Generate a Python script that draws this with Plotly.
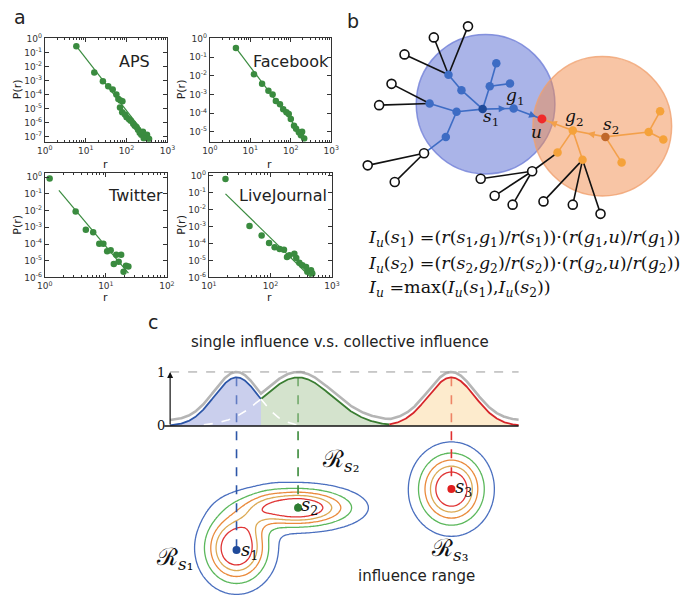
import numpy as np
import plotly.graph_objects as go

W, H = 685, 608
GREEN = '#3a8b3f'

# ---------------- panel a : data ----------------
aps_r = [5.9, 16.2, 26.3, 35.5, 45.7, 56.2, 63, 71, 79, 69, 78, 91, 100, 115, 126, 145, 158, 174,
         190, 209, 229, 251, 275, 295, 316, 331, 355, 263]
aps_p = [0.30, 4.0e-3, 9.3e-4, 4.2e-4, 2.4e-4, 1.07e-4, 5.0e-5, 4.0e-5, 3.5e-5, 1.26e-5, 5.8e-6,
         4.0e-6, 2.5e-6, 1.8e-6, 1.4e-6, 8.7e-7, 6.3e-7, 5.0e-7, 3.2e-7, 2.0e-7, 1.4e-7, 2.3e-7,
         1.26e-7, 1.0e-7, 1.4e-7, 7.9e-8, 7.1e-8, 7.9e-8]
aps_fit_r = [5.9, 340]
aps_fit_p = [0.30, 7.5e-8]

fb_r = [4.4, 12.3, 19.5, 28, 35.5, 42.7, 54, 65, 78, 89, 100, 120, 135, 158, 178, 214, 190]
fb_p = [0.32, 1.23e-2, 3.8e-3, 1.6e-3, 1.0e-3, 4.5e-4, 3.0e-4, 1.6e-4, 1.1e-4, 8.9e-5, 4.8e-5,
        2.1e-5, 1.45e-5, 9.5e-6, 6.5e-6, 4.3e-6, 1.0e-5]
fb_fit_r = [4.4, 225]
fb_fit_p = [0.32, 4.0e-6]

tw_r = [1.2, 3.2, 4.7, 6.2, 7.8, 9.1, 10.5, 12.0, 13.5, 14.8, 16.2, 17.8, 19.5, 21.4, 23.4]
tw_p = [0.83, 8.7e-3, 7.1e-4, 5.1e-4, 1.05e-4, 1.05e-4, 3.7e-5, 4.3e-5, 6.5e-6, 2.3e-5, 8.7e-6,
        2.3e-5, 2.2e-6, 5.1e-6, 4.5e-6]
tw_fit_r = [1.7, 23.4]
tw_fit_p = [0.16, 1.8e-6]

lj_r = [18.6, 45.7, 72, 95, 117, 141, 166, 186, 204, 245, 263, 295, 331, 380, 398, 457, 479]
lj_p = [0.62, 1.07e-3, 2.9e-4, 1.07e-4, 6.0e-5, 4.8e-5, 4.3e-5, 1.6e-5, 2.0e-5, 2.5e-5, 1.4e-5,
        7.4e-6, 5.2e-6, 4.2e-6, 2.2e-6, 2.7e-6, 1.7e-6]
lj_fit_r = [18.6, 457]
lj_fit_p = [8.3e-2, 1.0e-6]

panel_names = ['APS', 'Facebook', 'Twitter', 'LiveJournal']
x_decades = [[0, 1, 2, 3], [0, 1, 2, 3], [0, 1, 2], [1, 2, 3]]
y_decades = [list(range(0, -8, -1)), list(range(0, -6, -1)), list(range(0, -7, -1)), list(range(0, -7, -1))]

# ---------------- panel b : network ----------------
node_pos = {
    's1': (486, 105), 'g1': (517.7, 104.3), 'u': (546.7, 115),
    'A': (459.3, 107.7), 'B': (431.7, 99.3), 'C': (448.3, 133.3), 'D': (464.3, 85.7),
    'E': (451, 70), 'F': (493.3, 81.7), 'G': (500, 58.3), 'H': (514, 79),
    'h1': (426, 150), 'h2': (368.3, 162.3), 'h3': (396, 179.3), 'h4': (380, 101),
    'h5': (392.7, 79.3), 'h6': (406, 49.3), 'h7': (436, 32), 'h8': (471, 20.7),
    'g2': (578.3, 126.7), 's2': (611.7, 133.3), 'O1': (656, 128.3), 'O2': (667.7, 107.3),
    'O3': (671, 136), 'O4': (628.3, 159.3), 'O5': (562.7, 149.3), 'O6': (588.3, 156.7),
    'k1': (536.7, 168.3), 'k2': (484, 176), 'k3': (498.3, 193.3), 'k4': (516.7, 202.3),
    'k5': (548.3, 199), 'k6': (578.3, 202.3), 'k7': (606.7, 211.7),
}
blue_edges = [('s1', 'g1'), ('g1', 'u'), ('s1', 'A'), ('A', 'B'), ('A', 'C'), ('s1', 'D'),
              ('D', 'E'), ('s1', 'F'), ('F', 'G'), ('F', 'H'), ('C', 'h1')]
orange_edges = [('u', 'g2'), ('g2', 's2'), ('s2', 'O1'), ('O1', 'O2'), ('O1', 'O3'), ('s2', 'O4'),
                ('g2', 'O5'), ('g2', 'O6')]
black_edges = [('E', 'h6'), ('E', 'h7'), ('E', 'h8'), ('B', 'h4'), ('B', 'h5'), ('h1', 'h2'),
               ('h1', 'h3'), ('O5', 'k1'), ('k1', 'k2'), ('k1', 'k3'), ('k1', 'k4'),
               ('O6', 'k5'), ('O6', 'k6'), ('O6', 'k7')]
blue_nodes = ['g1', 'A', 'B', 'C', 'D', 'E', 'F', 'G', 'H']
orange_nodes = ['g2', 'O1', 'O2', 'O3', 'O4', 'O5', 'O6']
hollow_nodes = ['h1', 'h2', 'h3', 'h4', 'h5', 'h6', 'h7', 'h8', 'k1', 'k2', 'k3', 'k4', 'k5', 'k6', 'k7']
circle_blue = (489, 100, 71)     # cx, cy, radius
circle_orange = (608.5, 122.5, 71)
arrows = [('s1', 'g1', 0.75), ('g1', 'u', 0.8), ('g2', 'u', 0.75), ('s2', 'g2', 0.55)]

# ---------------- panel c : influence ----------------
peak_x = [234, 297, 454]          # blue, green, red bumps (px)
peak_sigma = [23, 35, 24]
peak_h = [0.9, 0.9, 0.9]
seed_pos = [(234, 554), (297, 511), (454, 492)]
# gaussian terms of the influence field: (cx, cy, sx, sy, angle_deg, amplitude)
field_terms = [(234, 552, 20, 22, 0, 1.0), (296, 511, 34, 12, 0, 1.0),
               (252, 522, 22, 9, -55, 0.10), (454, 492, 20.5, 22.4, 0, 1.0)]
levels = [0.10, 0.26, 0.42, 0.58, 0.74]
level_colors = ['#4a6fbf', '#5cb85c', '#ea8a3c', '#dcaa55', '#e03535']

fig = go.Figure()

# ---------- panel a ----------
datas = [(aps_r, aps_p, aps_fit_r, aps_fit_p), (fb_r, fb_p, fb_fit_r, fb_fit_p),
         (tw_r, tw_p, tw_fit_r, tw_fit_p), (lj_r, lj_p, lj_fit_r, lj_fit_p)]
for i, (r, p, fr, fp) in enumerate(datas):
    xa = 'x' if i == 0 else f'x{i+1}'
    ya = 'y' if i == 0 else f'y{i+1}'
    fig.add_trace(go.Scatter(x=fr, y=fp, mode='lines', line=dict(color=GREEN, width=1.2),
                             xaxis=xa, yaxis=ya, showlegend=False, hoverinfo='skip'))
    fig.add_trace(go.Scatter(x=r, y=p, mode='markers', marker=dict(color=GREEN, size=6.5),
                             xaxis=xa, yaxis=ya, showlegend=False))

doms_x = [[37.7, 163.3], [206.7, 331], [37.7, 162.7], [205.7, 331.7]]
doms_y = [[32.7, 138.3], [32.7, 138.3], [170, 276.5], [170, 276.5]]
rng_x = [[0, 3], [0, 3], [0, 2], [1, 3]]
rng_y = [[-7.35, 0.05], [-5.54, 0.03], [-6, 0.25], [-6, 0.15]]

layout_axes = {}
tfont = dict(size=9, color='#333', family='DejaVu Sans')
for i in range(4):
    xk = 'xaxis' if i == 0 else f'xaxis{i+1}'
    yk = 'yaxis' if i == 0 else f'yaxis{i+1}'
    xa = 'x' if i == 0 else f'x{i+1}'
    ya = 'y' if i == 0 else f'y{i+1}'
    minor_vals = [m * 10.0 ** k for k in range(int(rng_x[i][0]), int(rng_x[i][1])) for m in range(2, 10)]
    common = dict(ticks='inside', ticklen=4, tickwidth=0.8, tickcolor='#333', showline=True,
                  linecolor='#333', linewidth=1, mirror='allticks', showgrid=False, zeroline=False,
                  tickfont=tfont, type='log', tickmode='array', fixedrange=True)
    layout_axes[xk] = dict(common, domain=[doms_x[i][0] / W, doms_x[i][1] / W], range=rng_x[i],
                           tickvals=[10.0 ** k for k in x_decades[i]],
                           ticktext=[f'10<sup>{k}</sup>' for k in x_decades[i]], anchor=ya,
                           minor=dict(ticks='inside', ticklen=2, tickcolor='#333', tickmode='array',
                                      tickvals=minor_vals, showgrid=False))
    layout_axes[yk] = dict(common, domain=[1 - doms_y[i][1] / H, 1 - doms_y[i][0] / H], range=rng_y[i],
                           tickvals=[10.0 ** k for k in y_decades[i]],
                           ticktext=[f'10<sup>{k}</sup>' for k in y_decades[i]], anchor=xa)

# ---------- overlay pixel axis (x5/y5) ----------
layout_axes['xaxis5'] = dict(domain=[0, 1], range=[0, W], visible=False, anchor='y5', fixedrange=True)
layout_axes['yaxis5'] = dict(domain=[0, 1], range=[H, 0], visible=False, anchor='x5', fixedrange=True)

# ---------- curve axis (x6/y6) ----------
y0px, unitpx = 427.7, 55.0
layout_axes['xaxis6'] = dict(domain=[159 / W, 523 / W], range=[159, 523], visible=False, anchor='y6', fixedrange=True)
layout_axes['yaxis6'] = dict(domain=[1 - 445 / H, 1 - 365 / H], range=[(y0px - 445) / unitpx, (y0px - 365) / unitpx],
                             visible=False, anchor='x6', fixedrange=True)

# ---------- panel b drawing ----------
shapes = []
for (cx, cy, rr), fc, lc in [(circle_blue, 'rgba(85,105,210,0.50)', 'rgba(110,125,215,0.8)'),
                             (circle_orange, 'rgba(242,140,75,0.50)', 'rgba(240,160,110,0.8)')]:
    shapes.append(dict(type='circle', xref='x5', yref='y5', x0=cx - rr, x1=cx + rr, y0=cy - rr, y1=cy + rr,
                       fillcolor=fc, line=dict(color=lc, width=1.5), layer='below'))


def edge_xy(edges):
    xs, ys = [], []
    for a, b in edges:
        xs += [node_pos[a][0], node_pos[b][0], None]
        ys += [node_pos[a][1], node_pos[b][1], None]
    return xs, ys


for edges, col in [(black_edges, '#111111'), (blue_edges, '#3d6cc4'), (orange_edges, '#f3a04a')]:
    ex, ey = edge_xy(edges)
    fig.add_trace(go.Scatter(x=ex, y=ey, mode='lines', line=dict(color=col, width=1.6),
                             xaxis='x5', yaxis='y5', showlegend=False, hoverinfo='skip'))


def nodes_trace(names, fill, edge, size=8.5, lw=0):
    fig.add_trace(go.Scatter(x=[node_pos[n][0] for n in names], y=[node_pos[n][1] for n in names],
                             mode='markers', marker=dict(size=size, color=fill, line=dict(color=edge, width=lw)),
                             xaxis='x5', yaxis='y5', showlegend=False, hoverinfo='skip'))


nodes_trace(hollow_nodes, 'white', '#111111', 9, 1.6)
nodes_trace(blue_nodes, '#3d6cc4', '#3d6cc4')
nodes_trace(['s1'], '#1f4a9a', '#1f4a9a')
nodes_trace(orange_nodes, '#f5a23a', '#f5a23a')
nodes_trace(['s2'], '#c0672a', '#c0672a')
nodes_trace(['u'], '#f02a2a', '#f02a2a', 9)

annotations = []
for a, b, t in arrows:
    xa0, ya0 = node_pos[a]
    xb0, yb0 = node_pos[b]
    tipx, tipy = xa0 + (xb0 - xa0) * t, ya0 + (yb0 - ya0) * t
    col = '#3d6cc4' if a in ('s1', 'g1') else '#f3a04a'
    annotations.append(dict(x=tipx, y=tipy, ax=tipx - (xb0 - xa0) * 0.12, ay=tipy - (yb0 - ya0) * 0.12,
                            xref='x5', yref='y5', axref='x5', ayref='y5', showarrow=True, text='',
                            arrowhead=2, arrowsize=0.9, arrowwidth=1.6, arrowcolor=col))

serif = 'DejaVu Serif'


def note(x, y, text, size=16, family=serif, color='#111', xanchor='center', yanchor='middle', textangle=0):
    annotations.append(dict(x=x, y=y, xref='x5', yref='y5', text=text, showarrow=False,
                            font=dict(size=size, family=family, color=color),
                            xanchor=xanchor, yanchor=yanchor, textangle=textangle))


note(519, 92, '<i>g</i><sub>1</sub>', 17)
note(495, 114, '<i>s</i><sub>1</sub>', 17)
note(541, 128, '<i>u</i>', 17)
note(580, 114, '<i>g</i><sub>2</sub>', 17)
note(617, 122, '<i>s</i><sub>2</sub>', 17)

eqs = ['<i>I<sub>u</sub></i>(<i>s</i><sub>1</sub>) =(<i>r</i>(<i>s</i><sub>1</sub>,<i>g</i><sub>1</sub>)/<i>r</i>(<i>s</i><sub>1</sub>))·(<i>r</i>(<i>g</i><sub>1</sub>,<i>u</i>)/<i>r</i>(<i>g</i><sub>1</sub>))',
       '<i>I<sub>u</sub></i>(<i>s</i><sub>2</sub>) =(<i>r</i>(<i>s</i><sub>2</sub>,<i>g</i><sub>2</sub>)/<i>r</i>(<i>s</i><sub>2</sub>))·(<i>r</i>(<i>g</i><sub>2</sub>,<i>u</i>)/<i>r</i>(<i>g</i><sub>2</sub>))',
       '<i>I<sub>u</sub></i> =max(<i>I<sub>u</sub></i>(<i>s</i><sub>1</sub>),<i>I<sub>u</sub></i>(<i>s</i><sub>2</sub>))']
for k, (eq, yy) in enumerate(zip(eqs, [237, 263, 288])):
    note(367, yy, eq, 17.5, xanchor='left')

# ---------- panel a text ----------
sans = 'DejaVu Sans'
note(12, 11, 'a', 19, sans, '#222')
note(353, 15, 'b', 19, sans, '#222')
note(148, 322, 'c', 19, sans, '#222')
for (x, y, t) in [(130, 57, 'APS'), (290, 57, 'Facebook'), (131, 193, 'Twitter'), (282, 193, 'LiveJournal')]:
    note(x, y, t, 16, sans, '#222')
for (x, y) in [(10, 85), (178, 85), (10, 223), (178, 223)]:
    note(x, y, 'P(r)', 11, sans, '#222', textangle=-90)
for (x, y) in [(100, 161), (268, 161), (100, 297), (268, 297)]:
    note(x, y, 'r', 11, sans, '#222')

# ---------- panel c ----------
note(340, 342, 'single influence v.s. collective influence', 15, sans, '#222')
note(418, 581, 'influence range', 15, sans, '#222')
note(157, 373, '1', 13)
note(157, 427, '0', 13)

cx_px = np.linspace(166, 523, 715)
bumps = [peak_h[i] * np.exp(-(cx_px - peak_x[i]) ** 2 / (2 * peak_sigma[i] ** 2)) for i in range(3)]
stack = np.vstack(bumps)
env = stack.max(axis=0)
which = stack.argmax(axis=0)
line_cols = ['#2c56a8', '#3a7d32', '#d6262b']
fill_cols = ['rgba(150,160,220,0.5)', 'rgba(170,200,155,0.5)', 'rgba(252,215,155,0.5)']
for i in range(3):
    idx = np.where(which == i)[0]
    lo, hi = idx.min(), min(idx.max() + 1, len(cx_px) - 1)
    xs = cx_px[lo:hi + 1]
    ys = env[lo:hi + 1]
    fig.add_trace(go.Scatter(x=xs, y=ys, mode='lines', fill='tozeroy', fillcolor=fill_cols[i],
                             line=dict(color=line_cols[i], width=1.8), xaxis='x6', yaxis='y6',
                             showlegend=False, hoverinfo='skip'))
# hidden tails
for i in range(2):
    mask = (which != i) & (bumps[i] > 0.02) & (cx_px < 330)
    xs = np.where(mask, cx_px, np.nan)
    ys = np.where(mask, bumps[i], np.nan)
    fig.add_trace(go.Scatter(x=xs, y=ys, mode='lines', line=dict(color='white', width=1.6, dash='dash'),
                             xaxis='x6', yaxis='y6', showlegend=False, hoverinfo='skip', connectgaps=False))
fig.add_trace(go.Scatter(x=cx_px, y=env + 0.1, mode='lines', line=dict(color='#b5b5b5', width=2.6),
                         xaxis='x6', yaxis='y6', showlegend=False, hoverinfo='skip'))
fig.add_trace(go.Scatter(x=[166, 523], y=[1, 1], mode='lines', line=dict(color='#999', width=1, dash='dash'),
                         xaxis='x6', yaxis='y6', showlegend=False, hoverinfo='skip'))
fig.add_trace(go.Scatter(x=[160, 523], y=[0, 0], mode='lines', line=dict(color='#111', width=1.6),
                         xaxis='x6', yaxis='y6', showlegend=False, hoverinfo='skip'))
annotations.append(dict(x=166, y=1.0, ax=166, ay=0, xref='x6', yref='y6', axref='x6', ayref='y6',
                        showarrow=True, text='', arrowhead=2, arrowsize=1, arrowwidth=1.2, arrowcolor='#111'))

# vertical dashed connectors
dash_cols = ['#2c56a8', '#3a8a3a', '#e03030']
for i in range(3):
    fig.add_trace(go.Scatter(x=[peak_x[i], seed_pos[i][0]], y=[y0px - peak_h[i] * unitpx, seed_pos[i][1]],
                             mode='lines', line=dict(color=dash_cols[i], width=1.6, dash='dash'),
                             xaxis='x5', yaxis='y5', showlegend=False, hoverinfo='skip'))

# influence field contours
gx = np.arange(178, 514, 2.0)
gy = np.arange(434, 609, 2.0)
GX, GY = np.meshgrid(gx, gy)
F = np.zeros_like(GX)
for (cx, cy, sx, sy, ang, amp) in field_terms:
    t = np.deg2rad(ang)
    dx, dy = GX - cx, GY - cy
    a = dx * np.cos(t) + dy * np.sin(t)
    b = -dx * np.sin(t) + dy * np.cos(t)
    F += amp * np.exp(-(a ** 2 / (2 * sx ** 2) + b ** 2 / (2 * sy ** 2)))
step = levels[1] - levels[0]
cs = [[k / (len(levels) - 1), c] for k, c in enumerate(level_colors)]
fig.add_trace(go.Contour(x=gx, y=gy, z=np.round(F, 4), xaxis='x5', yaxis='y5', showscale=False,
                         contours=dict(coloring='lines', start=levels[0], end=levels[-1], size=step),
                         colorscale=cs, line=dict(width=1.3, smoothing=1), hoverinfo='skip'))

for (sx_, sy_), col in zip(seed_pos, ['#1f4a9a', '#2e7d32', '#e02020']):
    fig.add_trace(go.Scatter(x=[sx_], y=[sy_], mode='markers', marker=dict(size=8, color=col),
                             xaxis='x5', yaxis='y5', showlegend=False, hoverinfo='skip'))
note(247, 555, '<i>s</i><sub>1</sub>', 18)
note(309, 509, '<i>s</i><sub>2</sub>', 18)
note(466, 491, '<i>s</i><sub>3</sub>', 18)
note(170, 563, 'ℛ<sub><i>s</i>₁</sub>', 24)
note(340, 463, 'ℛ<sub><i>s</i>₂</sub>', 24)
note(452, 553, 'ℛ<sub><i>s</i>₃</sub>', 24)

fig.update_layout(width=W, height=H, margin=dict(l=0, r=0, t=0, b=0), paper_bgcolor='white',
                  plot_bgcolor='rgba(0,0,0,0)', showlegend=False, shapes=shapes, annotations=annotations,
                  **layout_axes)
fig.write_html('out.html', config={'displayModeBar': False},
               post_script="document.body.style.margin='0';document.body.style.overflow='hidden';")
